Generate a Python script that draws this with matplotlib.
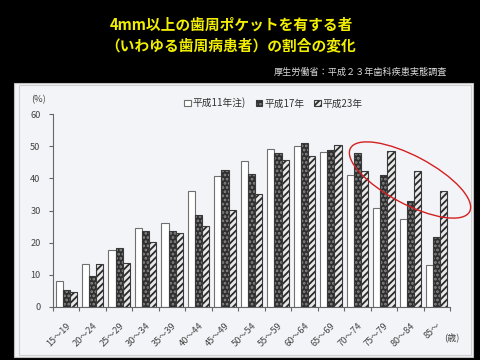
import numpy as np
import matplotlib
matplotlib.use("Agg")
import matplotlib.pyplot as plt
from matplotlib.patches import Rectangle, Ellipse
from matplotlib.legend_handler import HandlerTuple

plt.rcParams['font.family'] = ['Noto Sans CJK JP', 'DejaVu Sans']
plt.rcParams['hatch.linewidth'] = 1.3

# データ（歯科疾患実態調査：4mm以上の歯周ポケットを有する者の割合 %）
ages = ["15～19", "20～24", "25～29", "30～34", "35～39", "40～44", "45～49",
        "50～54", "55～59", "60～64", "65～69", "70～74", "75～79", "80～84", "85～"]
h11 = [8.0, 13.5, 17.7, 24.5, 26.2, 36.2, 40.7, 45.4, 49.2, 50.2, 48.2, 41.1, 30.7, 27.5, 13.0]
h17 = [5.2, 9.6, 18.2, 23.6, 23.5, 28.5, 42.6, 41.4, 48.0, 51.0, 48.8, 48.0, 41.1, 32.8, 21.7]
h23 = [4.7, 13.5, 13.7, 20.1, 23.1, 25.2, 30.2, 35.2, 45.8, 47.0, 50.4, 42.4, 48.5, 42.2, 36.2]
series_names = ["平成11年注)", "平成17年", "平成23年"]

fig = plt.figure(figsize=(4.8, 3.6), dpi=100, facecolor='black')

# スキャンした紙の背景
fig.patches.append(Rectangle((14/480, 1-357/360), 459/480, 274/360, transform=fig.transFigure,
                             facecolor='#f3f4f7', edgecolor='#bdbdbd', lw=0.8, zorder=-2))
fig.patches.append(Rectangle((19/480, 1-355/360), 452/480, 270/360, transform=fig.transFigure,
                             facecolor='none', edgecolor='#d0d0d0', lw=0.8, zorder=-1))

ax = fig.add_axes([53/480, 1-307/360, 397/480, 193/360])
ax.set_facecolor('none')

x = np.arange(len(ages))
w = 0.27
b11 = ax.bar(x - w, h11, w, facecolor='white', edgecolor='#707070', lw=0.8)
b17h = ax.bar(x, h17, w, facecolor='#2e2e2e', edgecolor='#8a8a8a', hatch='....', lw=0)
b17e = ax.bar(x, h17, w, facecolor='none', edgecolor='#3a3a3a', lw=0.8)
b23h = ax.bar(x + w, h23, w, facecolor='#e8e8e8', edgecolor='#2a2a2a', hatch='/////', lw=0)
b23e = ax.bar(x + w, h23, w, facecolor='none', edgecolor='#3a3a3a', lw=0.8)

ax.set_xlim(-0.5, len(ages) - 0.5)
ax.set_ylim(0, 60)
ax.set_yticks(range(0, 61, 10))
ax.set_xticks(x)
ax.set_xticklabels(ages, rotation=45, ha='right', va='top', rotation_mode='anchor',
                   fontsize=6.6, color='#444444')
ax.set_xticks(np.arange(-0.5, len(ages), 1), minor=True)
ax.tick_params(axis='x', which='major', length=0, pad=10)
ax.tick_params(axis='x', which='minor', length=3, color='#666666', width=0.8)
ax.tick_params(axis='y', length=3, color='#666666', width=0.8, labelsize=6.6,
               labelcolor='#444444', pad=6)
for s in ['top', 'right']:
    ax.spines[s].set_visible(False)
for s in ['left', 'bottom']:
    ax.spines[s].set_color('#666666')
    ax.spines[s].set_linewidth(0.8)

fig.text(38/480, 1-100/360, "(%)", fontsize=6.6, color='#444444', ha='center', va='center')
fig.text(452/480, 1-337/360, "(歳)", fontsize=6.6, color='#444444', ha='center', va='center')

ax.legend([b11, (b17h, b17e), (b23h, b23e)], series_names,
          handler_map={tuple: HandlerTuple(ndivide=1)},
          loc='center left', bbox_to_anchor=(179/480, 1-103/360), bbox_transform=fig.transFigure,
          ncol=3, frameon=False, fontsize=7, handlelength=0.7, handleheight=0.7,
          handletextpad=0.2, columnspacing=1.0, borderpad=0, labelcolor='#333333')

# タイトル
fig.text(231/480, 1-25/360, "4mm以上の歯周ポケットを有する者", fontsize=10.6, fontweight='bold',
         color='#f2ef00', ha='center', va='center')
fig.text(231/480, 1-45/360, "（いわゆる歯周病患者）の割合の変化", fontsize=10.6, fontweight='bold',
         color='#f2ef00', ha='center', va='center')
fig.text(447/480, 1-72/360, "厚生労働省：平成２３年歯科疾患実態調査", fontsize=6.6,
         color='#d8d8d8', ha='right', va='center')

# 赤い楕円（高齢層の強調）
fig.patches.append(Ellipse((4.10, 1.80), 1.35, 0.48, angle=-28, transform=fig.dpi_scale_trans,
                           facecolor='none', edgecolor='#d42020', lw=1.0, zorder=5))

fig.savefig("out.png", dpi=100, facecolor='black')
